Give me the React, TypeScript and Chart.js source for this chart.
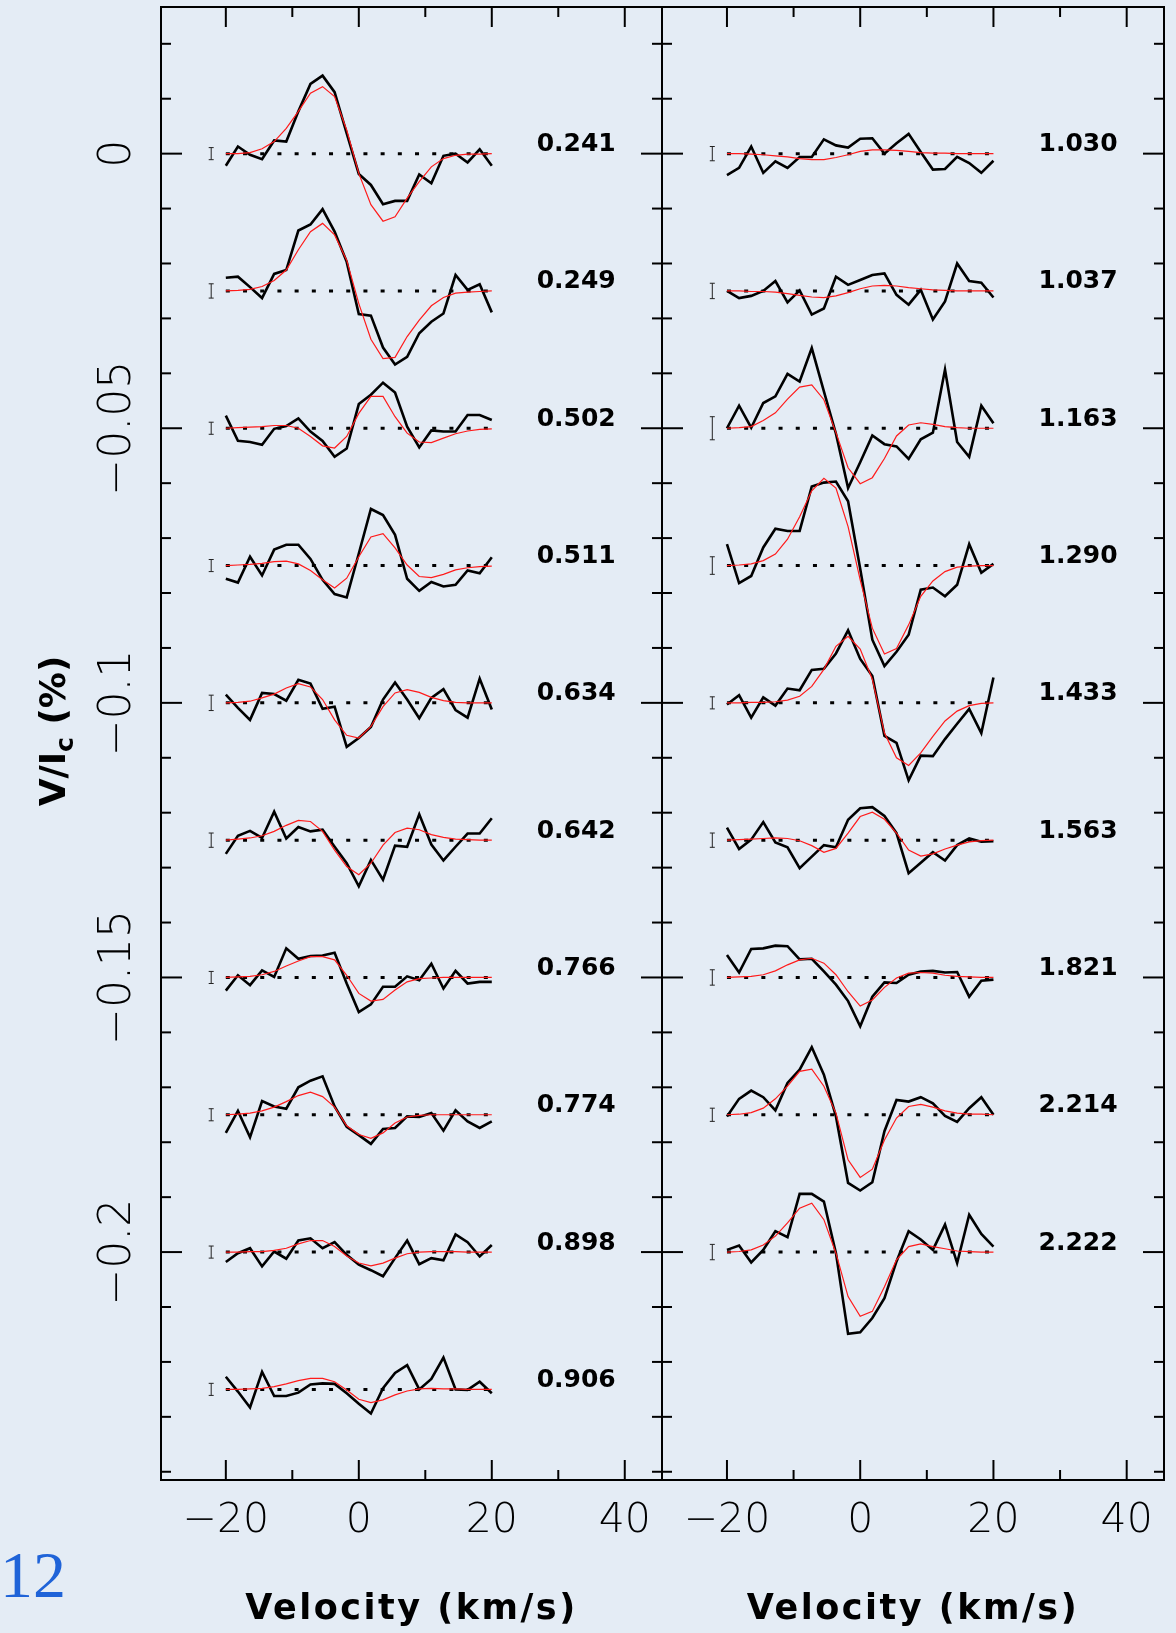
import { useEffect, useRef } from "react";
import { Chart, registerables } from "chart.js";

Chart.register(...registerables);

// ---------------- data ----------------
// velocity grid (km/s)
const velocity = [-20, -18.18, -16.36, -14.55, -12.73, -10.91, -9.09, -7.27, -5.45, -3.64, -1.82, 0, 1.82, 3.64, 5.45, 7.27, 9.09, 10.91, 12.73, 14.55, 16.36, 18.18, 20];
// profile values are given in units of 1e-3 (V/Ic in %)
const UNIT = 0.001;

const leftPhases = ["0.241", "0.249", "0.502", "0.511", "0.634", "0.642", "0.766", "0.774", "0.898", "0.906"];
const rightPhases = ["1.030", "1.037", "1.163", "1.290", "1.433", "1.563", "1.821", "2.214", "2.222"];
const leftShifts = [0, -0.025, -0.05, -0.075, -0.1, -0.125, -0.15, -0.175, -0.2, -0.225];
const rightShifts = [0, -0.025, -0.05, -0.075, -0.1, -0.125, -0.15, -0.175, -0.2];
const leftErrors = [1.1, 1.3, 1.1, 1.1, 1.4, 1.3, 1.1, 1.1, 1.1, 1.1];
const rightErrors = [1.3, 1.4, 2.1, 1.6, 1.1, 1.3, 1.4, 1.2, 1.4];
const errorBarVelocity = -22.2;

const obs241 = [-2.2, 1.3, -0.2, -1.0, 2.4, 2.2, 7.7, 12.7, 14.2, 11.2, 3.7, -3.7, -5.7, -9.2, -8.6, -8.6, -3.8, -5.4, -0.4, 0, -1.6, 0.8, -2.2];
const fit241 = [0, 0, 0.2, 0.9, 2.2, 4.6, 7.7, 11.0, 12.2, 10.4, 4.3, -3.6, -9.3, -12.3, -11.5, -8.1, -5.1, -2.4, -0.9, -0.3, -0.1, -0.1, 0];
const obs249 = [2.4, 2.6, 0.7, -1.3, 3.1, 3.8, 11.0, 12.1, 14.9, 10.8, 5.3, -4.2, -4.5, -10.3, -13.4, -12.0, -7.7, -5.6, -4.1, 2.9, 0.2, 1.2, -3.9];
const fit249 = [0, 0.1, 0.3, 0.8, 1.9, 3.8, 7.5, 10.8, 12.3, 10.2, 5.6, -2.3, -8.8, -12.3, -12.1, -8.3, -5.3, -2.7, -1.2, -0.4, -0.2, -0.1, 0];
const obs502 = [2.3, -2.3, -2.5, -3.0, -0.1, 0.4, 1.8, -0.6, -2.3, -5.2, -3.7, 4.4, 6.1, 8.3, 6.5, 0.3, -3.5, -0.4, -0.6, -0.6, 2.4, 2.4, 1.5];
const fit502 = [0, 0.1, 0.2, 0.3, 0.5, 0.5, 0, -1.5, -3.2, -3.6, -1.5, 2.7, 5.8, 5.8, 2.1, -0.9, -2.5, -2.6, -1.8, -1.0, -0.5, -0.2, -0.1];
const obs511 = [-2.4, -3.1, 1.6, -1.8, 2.9, 3.8, 3.8, 1.2, -2.6, -5.2, -5.8, 2.2, 10.3, 9.2, 5.6, -2.4, -4.6, -3.0, -3.8, -3.5, -0.9, -1.4, 1.5];
const fit511 = [0, 0.1, 0.2, 0.4, 0.7, 0.8, 0.3, -0.9, -2.6, -4.1, -2.3, 1.6, 5.2, 5.8, 3.2, 0.1, -2.0, -2.2, -1.6, -0.8, -0.4, -0.2, -0.1];
const obs634 = [1.5, -0.9, -3.1, 1.8, 1.6, 0.4, 4.2, 3.5, -1.1, -0.7, -8.0, -6.4, -4.4, 0.6, 3.7, 0.6, -2.8, 0.9, 2.5, -1.3, -2.7, 4.4, -1.2];
const fit634 = [0, 0.1, 0.3, 0.9, 1.6, 2.7, 3.5, 2.9, 0.6, -3.1, -5.9, -6.4, -4.3, -0.7, 1.8, 2.4, 1.9, 1.0, 0.4, 0.1, 0, 0, 0];
const obs642 = [-2.5, 0.8, 1.7, 0.4, 5.2, 0.3, 2.4, 1.6, 1.9, -1.2, -4.2, -8.4, -3.6, -7.2, -1.0, -1.2, 4.7, -0.8, -3.7, -1.2, 1.2, 1.2, 4.0];
const fit642 = [0, 0.2, 0.4, 0.8, 1.6, 2.7, 3.6, 3.4, 1.6, -1.8, -4.8, -6.3, -4.2, -0.9, 1.4, 2.2, 1.9, 1.0, 0.5, 0.2, 0.1, 0, 0];
const obs766 = [-2.4, 0.4, -1.4, 1.3, 0.1, 5.3, 3.4, 3.9, 4.0, 4.5, -1.1, -6.3, -4.9, -1.7, -1.7, 0.2, -0.5, 2.5, -2.0, 1.2, -1.1, -0.8, -0.8];
const fit766 = [0, 0.1, 0.2, 0.5, 1.1, 2.1, 3.0, 3.8, 3.8, 3.2, 0.4, -2.9, -4.3, -4.0, -2.3, -0.8, -0.2, -0.1, 0, 0, 0, 0, 0];
const obs774 = [-3.3, 0.7, -4.1, 2.5, 1.5, 1.1, 5.0, 6.2, 7.0, 1.5, -2.2, -3.7, -5.3, -2.6, -2.4, -0.3, -0.4, 0.3, -2.9, 0.8, -1.2, -2.4, -1.2];
const fit774 = [0, 0.1, 0.3, 0.7, 1.4, 2.4, 3.5, 4.1, 3.3, 1.4, -2.0, -3.6, -4.3, -3.3, -1.5, -0.4, -0.1, 0, 0, 0, 0, 0, 0];
const obs898 = [-1.8, -0.2, 0.7, -2.6, 0.1, -1.2, 2.1, 2.5, 0.7, 1.8, -0.5, -2.3, -3.3, -4.4, -1.1, 2.1, -2.2, -1.1, -1.5, 3.2, 1.8, -0.8, 1.3];
const fit898 = [0, 0, 0.1, 0.1, 0.3, 0.7, 1.5, 2.1, 2.1, 1.0, -0.7, -2.0, -2.5, -2.0, -1.1, -0.3, 0, 0.1, 0.1, 0.1, 0, 0, 0];
const obs906 = [2.3, -0.4, -3.3, 3.2, -1.2, -1.2, -0.6, 0.9, 1.1, 1.0, -0.7, -2.6, -4.4, 0.2, 3.0, 4.4, 0, 1.9, 5.8, 0, -0.1, 1.4, -0.7];
const fit906 = [0, 0, 0.1, 0.2, 0.5, 1.0, 1.6, 2.0, 2.0, 1.4, -0.1, -1.8, -2.4, -1.9, -1.0, -0.3, 0.1, 0.2, 0.1, 0.1, 0, 0, 0];

const obs1030 = [-3.9, -2.6, 1.3, -3.5, -1.4, -2.6, -0.6, -0.6, 2.6, 1.5, 1.1, 2.7, 2.8, 0, 1.9, 3.6, 0.3, -2.9, -2.8, -0.6, -1.7, -3.5, -1.3];
const fit1030 = [0, 0, -0.1, -0.2, -0.4, -0.6, -0.9, -1.1, -1.1, -0.7, -0.2, 0.4, 0.7, 0.7, 0.6, 0.4, 0.2, 0.1, 0.1, 0, 0, 0, 0];
const obs1037 = [0, -1.3, -0.9, 0, 1.8, -2.1, 0.1, -4.3, -3.2, 2.6, 1.1, 2.0, 2.9, 3.2, -0.7, -2.5, 0.2, -5.2, -1.9, 5.0, 1.8, 1.5, -1.2];
const fit1037 = [0, 0, -0.1, -0.1, -0.2, -0.5, -0.8, -1.1, -1.2, -0.9, -0.3, 0.4, 0.9, 1.0, 0.9, 0.6, 0.4, 0.2, 0.1, 0, 0, 0, 0];
const obs1163 = [0, 4.1, 0.1, 4.6, 5.8, 9.9, 8.5, 14.6, 6.7, -1.0, -10.9, -6.2, -1.3, -2.9, -3.3, -5.6, -2.0, -0.8, 10.7, -2.5, -5.2, 4.1, 0.9];
const fit1163 = [0, 0.1, 0.3, 1.4, 2.8, 5.3, 7.5, 7.9, 5.2, -0.8, -7.2, -10.1, -9.0, -5.5, -1.4, 0.6, 1.0, 0.7, 0.3, 0.1, 0, 0, 0];
const obs1290 = [3.9, -3.2, -1.9, 3.3, 6.7, 6.3, 6.3, 14.4, 15.1, 15.3, 11.7, -0.6, -13.5, -18.3, -15.7, -12.6, -4.4, -4.0, -5.6, -3.5, 3.9, -1.3, 0.3];
const fit1290 = [0, 0.1, 0.3, 0.9, 2.1, 4.8, 8.9, 13.6, 15.9, 14.1, 7.1, -2.6, -11.4, -16.1, -15.1, -10.8, -5.6, -2.8, -1.1, -0.3, -0.1, 0, 0];
const obs1433 = [-0.3, 1.4, -2.7, 1.0, -0.5, 2.6, 2.3, 6.0, 6.2, 9.0, 13.2, 8.0, 4.9, -6.0, -7.3, -14.1, -9.6, -9.7, -6.6, -3.8, -1.1, -5.5, 4.6];
const fit1433 = [0, 0, 0.1, 0.1, 0.2, 0.5, 1.2, 3.0, 6.1, 10.3, 12.1, 9.8, 4.3, -5.5, -10.0, -11.4, -9.1, -6.1, -3.3, -1.5, -0.5, -0.1, 0];
const obs1563 = [2.3, -1.6, 0.1, 3.3, -0.4, -1.3, -5.1, -3.0, -0.9, -1.3, 3.7, 5.8, 6.0, 4.4, 1.3, -6.0, -4.1, -2.2, -3.7, -0.9, 0.3, -0.3, -0.2];
const fit1563 = [0, 0.1, 0.2, 0.3, 0.4, 0.3, -0.1, -1.0, -2.2, -1.5, 1.3, 4.3, 5.1, 3.8, 1.3, -1.8, -2.9, -2.5, -1.6, -0.9, -0.3, -0.1, 0];
const obs1821 = [4.1, 0.9, 5.2, 5.3, 5.8, 5.7, 3.3, 3.4, 1.1, -1.3, -4.3, -8.9, -3.5, -0.9, -1.0, 0.5, 1.1, 1.2, 0.9, 1.0, -3.5, -0.6, -0.4];
const fit1821 = [0, 0.1, 0.2, 0.5, 1.2, 2.3, 3.2, 3.5, 2.6, 0.5, -2.6, -5.2, -4.1, -1.8, -0.1, 0.8, 0.9, 0.8, 0.4, 0.2, 0.1, 0, 0];
const obs2214 = [-0.3, 2.9, 4.4, 3.2, 0.8, 5.8, 8.2, 12.3, 7.3, -0.3, -12.4, -13.8, -12.3, -3.0, 2.7, 2.4, 3.2, 2.1, -0.2, -1.3, 1.2, 3.2, 0];
const fit2214 = [0, 0.1, 0.4, 1.2, 2.9, 5.2, 7.9, 8.3, 5.2, 0.3, -8.2, -11.4, -9.9, -4.6, -0.6, 1.5, 1.9, 1.4, 0.7, 0.3, 0.1, 0.1, 0];
const obs2222 = [0.4, 1.2, -1.9, 0.4, 3.8, 2.7, 10.6, 10.6, 9.2, -0.2, -14.9, -14.6, -12.0, -8.4, -1.7, 3.8, 2.3, 0.4, 5.0, -2.0, 6.8, 3.3, 1.0];
const fit2222 = [0, 0.1, 0.4, 1.3, 2.9, 5.3, 8.0, 8.9, 5.9, -0.2, -8.1, -11.7, -10.8, -6.3, -1.4, 1.0, 1.5, 1.0, 0.6, 0.2, 0.1, 0, 0];

const leftObs = [obs241, obs249, obs502, obs511, obs634, obs642, obs766, obs774, obs898, obs906];
const leftFit = [fit241, fit249, fit502, fit511, fit634, fit642, fit766, fit774, fit898, fit906];
const rightObs = [obs1030, obs1037, obs1163, obs1290, obs1433, obs1563, obs1821, obs2214, obs2222];
const rightFit = [fit1030, fit1037, fit1163, fit1290, fit1433, fit1563, fit1821, fit2214, fit2222];

// axes
const xMin = -29.75;
const xMax = 45.6;
const yMin = -0.2415;
const yMax = 0.0267;
const xTickValues = [-20, 0, 20, 40];
const xTickLabels = ["\u221220", "0", "20", "40"];
const xMinorTicks = [-10, 10, 30];
const yTickValues = [0, -0.05, -0.1, -0.15, -0.2];
const yTickLabels = ["0", "\u22120.05", "\u22120.1", "\u22120.15", "\u22120.2"];
const xTitle = "Velocity (km/s)";

// ---------------- layout ----------------
const PAGE_W = 1176;
const PAGE_H = 1633;
const BG = "rgb(228,236,245)";

type PanelCfg = {
  phases: string[];
  shifts: number[];
  errors: number[];
  obs: number[][];
  fit: number[][];
  padding: { left: number; right: number; top: number; bottom: number };
  yLabels: boolean;
};

function buildDatasets(cfg: PanelCfg) {
  const ds: any[] = [];
  cfg.shifts.forEach((s, k) => {
    ds.push({
      data: [
        { x: velocity[0], y: s },
        { x: velocity[velocity.length - 1], y: s },
      ],
      borderColor: "#000",
      borderWidth: 3,
      borderDash: [4, 13.2],
      pointRadius: 0,
      order: 4,
    });
    ds.push({
      data: [
        { x: errorBarVelocity, y: s - cfg.errors[k] * UNIT },
        { x: errorBarVelocity, y: s + cfg.errors[k] * UNIT },
      ],
      borderColor: "#222",
      borderWidth: 1,
      pointStyle: "line",
      pointRadius: 2.5,
      pointBorderWidth: 1,
      pointBorderColor: "#222",
      order: 3,
    });
    ds.push({
      data: velocity.map((v, i) => ({ x: v, y: s + cfg.obs[k][i] * UNIT })),
      borderColor: "#000",
      borderWidth: 2.6,
      pointRadius: 0,
      tension: 0,
      borderJoinStyle: "miter",
      order: 2,
    });
    ds.push({
      data: velocity.map((v, i) => ({ x: v, y: s + cfg.fit[k][i] * UNIT })),
      borderColor: "#ff1a1a",
      borderWidth: 1.2,
      pointRadius: 0,
      tension: 0,
      order: 1,
    });
  });
  return ds;
}

function decorPlugin(cfg: PanelCfg) {
  return {
    id: "panelDecor",
    afterDraw(chart: any) {
      const { ctx, chartArea: a, scales } = chart;
      const xs = scales.x;
      const ys = scales.y;
      ctx.save();
      ctx.strokeStyle = "#000";
      ctx.fillStyle = "#000";
      ctx.lineWidth = 2;
      ctx.lineCap = "butt";
      ctx.strokeRect(a.left, a.top, a.right - a.left, a.bottom - a.top);
      const seg = (x1: number, y1: number, x2: number, y2: number) => {
        ctx.beginPath();
        ctx.moveTo(x1, y1);
        ctx.lineTo(x2, y2);
        ctx.stroke();
      };
      // x ticks (inward, top and bottom)
      const allX = [...xTickValues.map((v) => [v, 20]), ...xMinorTicks.map((v) => [v, 10])];
      for (const [v, len] of allX) {
        const px = xs.getPixelForValue(v);
        if (px < a.left || px > a.right) continue;
        seg(px, a.bottom, px, a.bottom - len);
        seg(px, a.top, px, a.top + len);
      }
      // y ticks (inward, left and right)
      const kMin = Math.ceil(yMin / 0.01 - 1e-6);
      const kMax = Math.floor(yMax / 0.01 + 1e-6);
      for (let k = kMin; k <= kMax; k++) {
        const py = ys.getPixelForValue(k * 0.01);
        const len = k % 5 === 0 ? 21 : 10;
        seg(a.left, py, a.left + len, py);
        seg(a.right, py, a.right - len, py);
      }
      // x tick labels
      ctx.font = "200 41px 'DejaVu Sans'";
      ctx.textAlign = "center";
      ctx.textBaseline = "middle";
      xTickValues.forEach((v, i) => {
        ctx.fillText(xTickLabels[i], xs.getPixelForValue(v), a.bottom + 41);
      });
      // y tick labels (rotated)
      if (cfg.yLabels) {
        ctx.font = "200 44px 'DejaVu Sans'";
        yTickValues.forEach((v, i) => {
          ctx.save();
          ctx.translate(a.left - 42, ys.getPixelForValue(v));
          ctx.rotate(-Math.PI / 2);
          ctx.fillText(yTickLabels[i], 0, 0);
          ctx.restore();
        });
      }
      // x axis title
      ctx.save();
      ctx.font = "bold 35px 'DejaVu Sans'";
      (ctx as any).letterSpacing = "2.5px";
      ctx.textBaseline = "alphabetic";
      ctx.fillText(xTitle, (a.left + a.right) / 2, a.bottom + 139);
      ctx.restore();
      // phase labels
      ctx.font = "bold 25px 'DejaVu Sans'";
      ctx.textAlign = "center";
      ctx.textBaseline = "middle";
      cfg.phases.forEach((p, k) => {
        ctx.fillText(p, xs.getPixelForValue(32.7), ys.getPixelForValue(cfg.shifts[k]) - 9);
      });
      // y axis title and page mark (left panel only)
      if (cfg.yLabels) {
        ctx.save();
        ctx.translate(56, 731);
        ctx.rotate(-Math.PI / 2);
        ctx.textAlign = "left";
        ctx.textBaseline = "middle";
        const p1 = "V/I";
        const p3 = " (%)";
        ctx.font = "bold 36px 'DejaVu Sans'";
        const w1 = ctx.measureText(p1).width;
        const w3 = ctx.measureText(p3).width;
        ctx.font = "bold 25px 'DejaVu Sans'";
        const w2 = ctx.measureText("c").width;
        const total = w1 + w2 + w3;
        let x0 = -total / 2;
        ctx.font = "bold 36px 'DejaVu Sans'";
        ctx.fillText(p1, x0, 0);
        x0 += w1;
        ctx.font = "bold 25px 'DejaVu Sans'";
        ctx.fillText("c", x0, 10);
        x0 += w2;
        ctx.font = "bold 36px 'DejaVu Sans'";
        ctx.fillText(p3, x0, 0);
        ctx.restore();

        ctx.fillStyle = "#1f63d8";
        ctx.font = "66px 'Liberation Serif'";
        ctx.textAlign = "left";
        ctx.textBaseline = "alphabetic";
        ctx.fillText("12", 0, 1597);
      }
      ctx.restore();
    },
  };
}

function Panel({ cfg }: { cfg: PanelCfg }) {
  const ref = useRef<HTMLCanvasElement | null>(null);
  useEffect(() => {
    if (!ref.current) return;
    const chart = new Chart(ref.current, {
      type: "line",
      data: { datasets: buildDatasets(cfg) },
      options: {
        animation: false,
        responsive: false,
        maintainAspectRatio: false,
        devicePixelRatio: 1,
        layout: { padding: cfg.padding },
        plugins: { legend: { display: false }, tooltip: { enabled: false } },
        scales: {
          x: { type: "linear", min: xMin, max: xMax, display: false },
          y: { type: "linear", min: yMin, max: yMax, display: false },
        },
      },
      plugins: [decorPlugin(cfg)],
    } as any);
    return () => chart.destroy();
  }, [cfg]);
  return (
    <canvas
      ref={ref}
      width={PAGE_W}
      height={PAGE_H}
      style={{ position: "absolute", left: 0, top: 0, width: PAGE_W, height: PAGE_H }}
    />
  );
}

const leftCfg: PanelCfg = {
  phases: leftPhases,
  shifts: leftShifts,
  errors: leftErrors,
  obs: leftObs,
  fit: leftFit,
  padding: { left: 161, right: PAGE_W - 662, top: 7, bottom: PAGE_H - 1480 },
  yLabels: true,
};
const rightCfg: PanelCfg = {
  phases: rightPhases,
  shifts: rightShifts,
  errors: rightErrors,
  obs: rightObs,
  fit: rightFit,
  padding: { left: 662, right: PAGE_W - 1164, top: 7, bottom: PAGE_H - 1480 },
  yLabels: false,
};

export default function App() {
  return (
    <div
      style={{
        position: "absolute",
        left: 0,
        top: 0,
        width: PAGE_W,
        height: PAGE_H,
        background: BG,
        overflow: "hidden",
      }}
    >
      <Panel cfg={leftCfg} />
      <Panel cfg={rightCfg} />
    </div>
  );
}
